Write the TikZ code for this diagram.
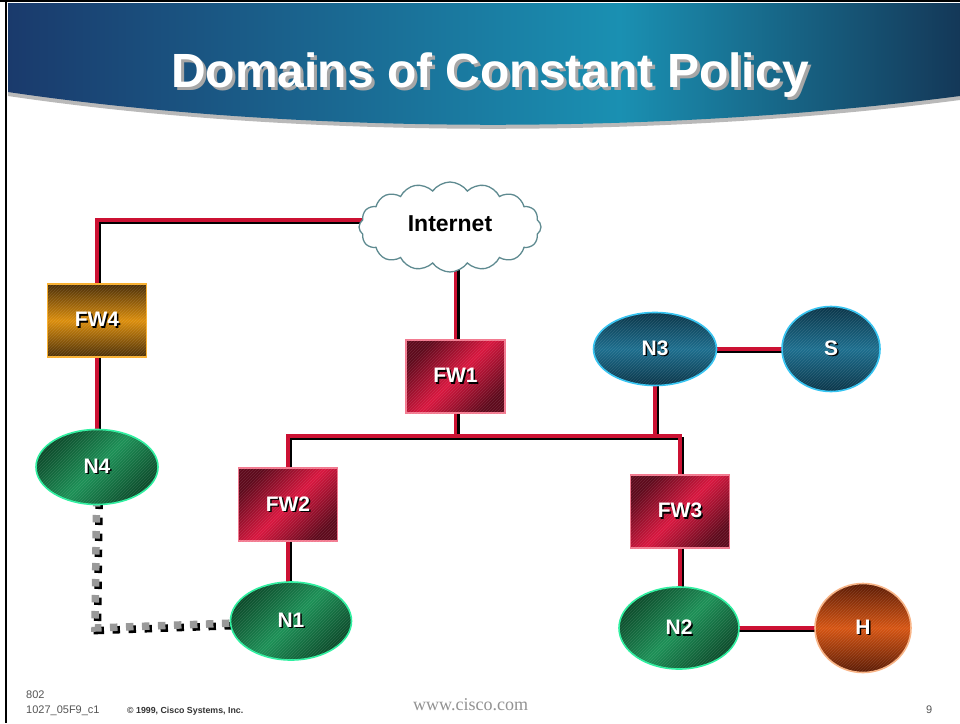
\documentclass[tikz,border=0pt]{standalone}
\usepackage{fontspec}
\setmainfont{Liberation Sans}
\newfontfamily\serifw{Liberation Serif}
\usetikzlibrary{shapes.geometric,shapes.symbols,backgrounds,patterns}
\pgfdeclarelayer{bottom}
\pgfsetlayers{bottom,background,main}
\definecolor{linkred}{HTML}{CC1133}
\definecolor{fwdark}{HTML}{5E0A1C}
\definecolor{fwbright}{HTML}{D8163E}
\definecolor{fwborder}{HTML}{F27A90}
\definecolor{odark}{HTML}{4A2E08}
\definecolor{obright}{HTML}{DC8E0C}
\definecolor{oborder}{HTML}{F8B030}
\definecolor{gdark}{HTML}{0C4A2A}
\definecolor{gbright}{HTML}{1C9056}
\definecolor{gborder}{HTML}{2EF0A0}
\definecolor{bdark}{HTML}{0A3448}
\definecolor{bbright}{HTML}{1C6E8E}
\definecolor{bborder}{HTML}{34C4F2}
\definecolor{hdark}{HTML}{5A1A04}
\definecolor{hbright}{HTML}{D65412}
\definecolor{hborder}{HTML}{F8B486}
\definecolor{cloudline}{HTML}{5E8A90}
\definecolor{navy}{HTML}{1A3A6C}
\definecolor{tealc}{HTML}{1A90B2}
\definecolor{navyr}{HTML}{143858}
\definecolor{foot}{HTML}{555555}
\newcommand\shlbl[2]{\rlap{\kern1.5pt\raisebox{-1.5pt}{\textcolor{#2}{#1}}}\textcolor{white}{#1}}
\newcommand\linkpaths[1]{%
  \draw[#1] (c4 -| inet) -- (c4) -- (fw4.center);
  \draw[#1] (fw4.center) -- (n4.center);
  \draw[#1] (fw1.center) -- (fw1 |- inet);
  \draw[#1] (fw1.center) -- (fw1 |- busL);
  \draw[#1] (fw2.center) |- (busR) -- (fw3.center);
  \draw[#1] (n3.center) -- (n3 |- busL);
  \draw[#1] (n3.center) -- (s.center);
  \draw[#1] (fw2.center) -- (fw2 |- n1);
  \draw[#1] (fw3.center) -- (fw3 |- n2);
  \draw[#1] (n2.center) -- (h.center);
}
\begin{document}
\begin{tikzpicture}[x=1pt,y=-1pt,
  hatch/.style={postaction={pattern=north east lines, pattern color=white, opacity=.12}},
  lbl/.style={font=\fontsize{21}{21}\bfseries, text=white, inner sep=0pt},
  fwbox/.style={rectangle, minimum width=99pt, minimum height=73pt, lbl, draw=fwborder, line width=1.6pt,
    top color=fwdark, bottom color=fwdark, middle color=fwbright, shading angle=45, hatch},
  fw4box/.style={fwbox, draw=oborder, top color=odark, bottom color=odark, middle color=obright},
  gnet/.style={ellipse, lbl, draw=gborder, line width=1.6pt,
    top color=gdark, bottom color=gdark, middle color=gbright, shading angle=45, hatch},
  bnet/.style={gnet, draw=bborder, top color=bdark, bottom color=bdark, middle color=bbright},
  hnet/.style={gnet, draw=hborder, top color=hdark, bottom color=hdark, middle color=hbright},
  link/.style={draw=linkred, line width=3.5pt},
  linkshadow/.style={draw=black, line width=3.5pt},
  dots/.style={draw=#1, line width=7.5pt, dash pattern=on 7.5pt off 8.5pt},
  foottxt/.style={font=\fontsize{11}{11}\selectfont, text=foot, inner sep=0pt, anchor=base west}
]
\useasboundingbox (0,0) rectangle (960,723);
\begin{pgfonlayer}{bottom}
\fill[white] (0,0) rectangle (960,723);
\end{pgfonlayer}
% header
\fill[gray!55] (8,3) -- (960,3) -- (960,100) .. controls (660,139) and (300,139) .. (8,96) -- cycle;
\begin{scope}
  \clip (8,3) -- (960,3) -- (960,96) .. controls (660,135) and (300,135) .. (8,92) -- cycle;
  \shade[left color=navy, right color=tealc] (8,0) rectangle (620,140);
  \shade[left color=tealc, right color=navyr] (620,0) rectangle (960,140);
\end{scope}
\node[inner sep=0pt, font=\fontsize{48}{48}\bfseries] (title) at (490,77)
  {\rlap{\kern3pt\raisebox{-3pt}{\textcolor{gray!70}{Domains of Constant Policy}}}\textcolor{white}{Domains of Constant Policy}};
% frame
\draw[black, line width=2pt] (0,1) -- (960,1);
\draw[black, line width=2pt] (6,0) -- (6,723);
% nodes
\node[cloud, cloud puffs=16, cloud puff arc=110, aspect=2.1, minimum width=182pt, minimum height=90pt,
  draw=cloudline, line width=1.3pt, fill=white, font=\fontsize{23}{23}\bfseries, inner sep=0pt] (inet) at (450,227) {\raisebox{6pt}{Internet}};
\node[fw4box] (fw4) at (97,320.5) {\shlbl{FW4}{black}};
\node[gnet, minimum width=122pt, minimum height=75pt] (n4) at (97,467) {\shlbl{N4}{black}};
\node[fwbox] (fw1) at (455.5,376.5) {\shlbl{FW1}{black}};
\node[bnet, minimum width=123pt, minimum height=73pt] (n3) at (655,349) {\shlbl{N3}{black}};
\node[bnet, minimum width=98pt, minimum height=85pt] (s) at (831,349) {\shlbl{S}{black}};
\node[fwbox] (fw2) at (288,504.5) {\shlbl{FW2}{black}};
\node[gnet, minimum width=121pt, minimum height=78pt] (n1) at (291,621) {\shlbl{N1}{black}};
\node[fwbox] (fw3) at (680,511.5) {\shlbl{FW3}{black}};
\node[gnet, minimum width=120pt, minimum height=82pt] (n2) at (679,628) {\shlbl{N2}{black}};
\node[hnet, minimum width=96pt, minimum height=89pt] (h) at (863,628) {\shlbl{H}{black}};
\coordinate (c4) at (97,220);
\coordinate (busL) at (288,436);
\coordinate (busR) at (680,436);
\coordinate (c5) at (95,628);
% connectors
\begin{scope}[on background layer]
  \begin{scope}[transform canvas={shift={(2.5,2.5)}}]
    \draw[dots=black] (n4.center) -- (c5) -- (n1.center);
  \end{scope}
  \draw[dots=gray!80] (n4.center) -- (c5) -- (n1.center);
  \begin{scope}[transform canvas={shift={(2.5,2.5)}}]
    \linkpaths{linkshadow}
  \end{scope}
  \linkpaths{link}
\end{scope}
% footer
\node[foottxt] (f1) at (26,698) {802};
\node[foottxt] (f2) at (26,713) {1027\_05F9\_c1};
\node[foottxt, font=\fontsize{8.8}{9}\bfseries, text=black!80] (f3) at (127,713) {© 1999, Cisco Systems, Inc.};
\node[foottxt, font=\fontsize{18}{18}\serifw, text=gray!85] (f4) at (413,710) {www.cisco.com};
\node[foottxt] (f5) at (926,713) {9};
\end{tikzpicture}
\end{document}
